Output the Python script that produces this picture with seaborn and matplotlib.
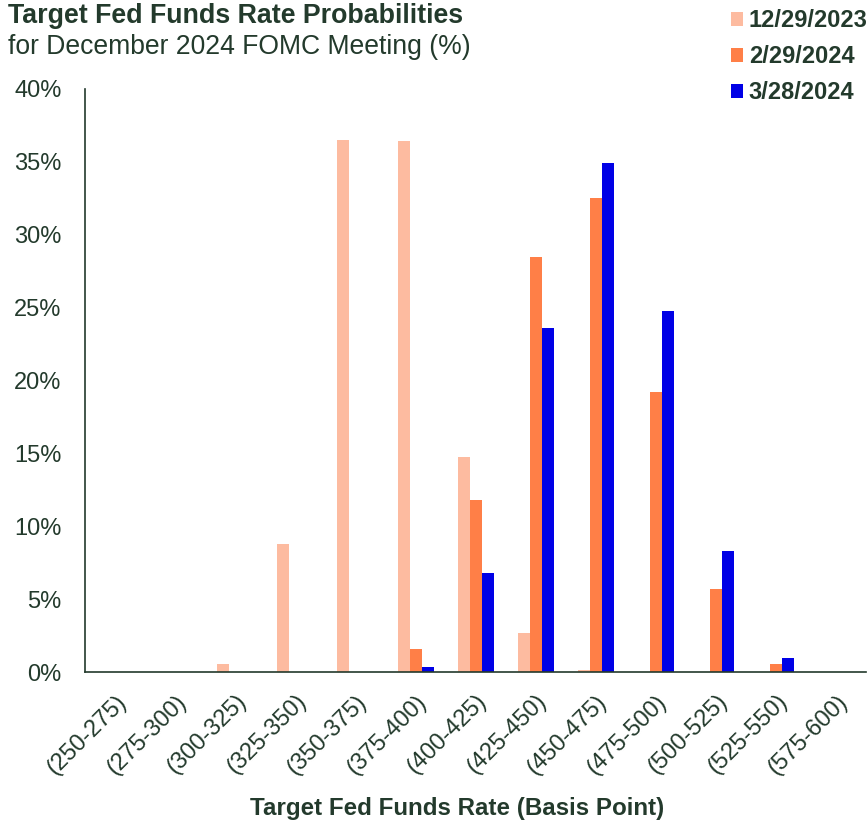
import numpy as np
import pandas as pd
import matplotlib
matplotlib.use("Agg")
import matplotlib.pyplot as plt
import seaborn as sns
from matplotlib.patches import Patch

ranges = ['(250-275)', '(275-300)', '(300-325)', '(325-350)', '(350-375)', '(375-400)',
          '(400-425)', '(425-450)', '(450-475)', '(475-500)', '(500-525)', '(525-550)',
          '(575-600)']
dates = ['12/29/2023', '2/29/2024', '3/28/2024']

prob_dec29 = [0.0, 0.0, 0.6, 8.8, 36.5, 36.4, 14.8, 2.7, 0.15, 0.0, 0.0, 0.0, 0.0]
prob_feb29 = [0.0, 0.0, 0.0, 0.0, 0.0, 1.6, 11.8, 28.5, 32.5, 19.2, 5.7, 0.6, 0.0]
prob_mar28 = [0.0, 0.0, 0.0, 0.0, 0.0, 0.4, 6.8, 23.6, 34.9, 24.8, 8.3, 1.0, 0.05]

colors = ['#FDBBA0', '#FF7F47', '#0000E6']
ink = '#233A2C'

df = pd.DataFrame({
    'range': ranges * 3,
    'date': [d for d in dates for _ in ranges],
    'prob': prob_dec29 + prob_feb29 + prob_mar28,
})

sns.set_style("white")
plt.rcParams['font.family'] = ['Liberation Sans', 'DejaVu Sans']

fig = plt.figure(figsize=(8.68, 8.24), dpi=100)
ax = fig.add_axes([0.098, 0.184, 0.9, 0.708])

sns.barplot(data=df, x='range', y='prob', hue='date', hue_order=dates,
            order=ranges, palette=colors, width=0.6, saturation=1,
            linewidth=0, ax=ax, legend=False)

ax.set_ylim(0, 40)
ax.set_xlim(-0.5, len(ranges) - 0.5)
ax.set_yticks(np.arange(0, 41, 5))
ax.set_yticklabels([f'{int(t)}%' for t in np.arange(0, 41, 5)], fontsize=17, color=ink)
ax.tick_params(axis='y', direction='in', length=7, color=ink, pad=17)
ax.tick_params(axis='x', length=0, pad=13)
ax.set_xticks(range(len(ranges)))
ax.set_xticklabels(ranges, rotation=45, ha='right', rotation_mode='anchor',
                   fontsize=17, color=ink)
ax.set_ylabel('')
ax.set_xlabel('Target Fed Funds Rate (Basis Point)', fontsize=17.4, fontweight='bold',
              color=ink)
ax.xaxis.set_label_coords(0.476, -0.233)
ax.xaxis.label.set_va('center')

for side in ['top', 'right']:
    ax.spines[side].set_visible(False)
for side in ['left', 'bottom']:
    ax.spines[side].set_color(ink)
    ax.spines[side].set_linewidth(1.2)

fig.text(0.009, 0.981, 'Target Fed Funds Rate Probabilities', fontsize=19.3,
         fontweight='bold', color=ink, va='center')
fig.text(0.009, 0.943, 'for December 2024 FOMC Meeting (%)', fontsize=19.1,
         color=ink, va='center')

handles = [Patch(facecolor=c, edgecolor='none') for c in colors]
leg = fig.legend(handles, dates, loc='upper left', bbox_to_anchor=(731 / 868, 0.989),
                 frameon=False, borderpad=0, borderaxespad=0,
                 handlelength=0.5, handleheight=0.55, handletextpad=0.25,
                 labelspacing=0.55, prop={'weight': 'bold', 'size': 17})
for t in leg.get_texts():
    t.set_color(ink)

fig.savefig('out.png', dpi=100)
